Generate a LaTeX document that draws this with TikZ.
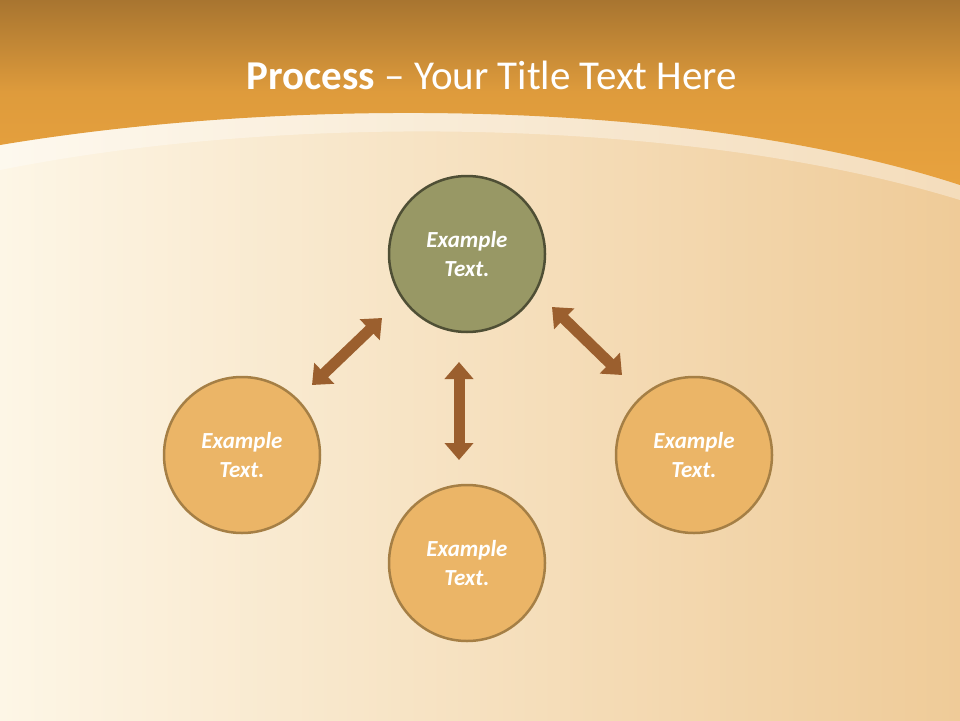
\documentclass[tikz,border=0pt]{standalone}
\usepackage{fontspec}
\setmainfont{Carlito}
\usetikzlibrary{arrows.meta}
\definecolor{hdtop}{HTML}{A87530}
\definecolor{hdbot}{HTML}{E8A23E}
\definecolor{bgl}{HTML}{FDF6E6}
\definecolor{bgr}{HTML}{EFCB98}
\definecolor{olive}{HTML}{989865}
\definecolor{olivedk}{HTML}{4F4F35}
\definecolor{orf}{HTML}{EBB567}
\definecolor{ord}{HTML}{A57F45}
\definecolor{arr}{HTML}{9B5F2E}
\tikzset{
 circ/.style={circle,minimum size=156pt,line width=2.5pt,draw=ord,fill=orf,text=white,align=center,font=\fontsize{23}{29}\selectfont\bfseries\itshape},
 dbl/.style={line width=11pt,draw=arr,{Triangle[width=28pt,length=17pt]}-{Triangle[width=28pt,length=17pt]}}
}
\begin{document}
\begin{tikzpicture}[x=1pt,y=-1pt]
\useasboundingbox (0,0) rectangle (960,720);
\shade[left color=bgl,right color=bgr] (0,0) rectangle (960,720);
\fill[white,opacity=0.35] (0,170) .. controls (300,110) and (700,120) .. (960,200) -- (960,180) .. controls (700,100) and (300,95) .. (0,145) -- cycle;
\shade[top color=hdtop,bottom color=hdbot,middle color=hdbot!85!hdtop] (0,0) -- (960,0) -- (960,185) .. controls (700,100) and (300,95) .. (0,145) -- cycle;
\node[text=white,font=\fontsize{41}{44}\selectfont] (title) at (492,75) {\textbf{Process} -- Your Title Text Here};
\node[circ,fill=olive,draw=olivedk] (top) at (467,254) {Example\\Text.};
\node[circ] (left) at (242,455) {Example\\Text.};
\node[circ] (bot) at (467,563) {Example\\Text.};
\node[circ] (right) at (694,455) {Example\\Text.};
\coordinate (a1) at (312,385); \coordinate (a2) at (382,318);
\coordinate (b1) at (459,362); \coordinate (b2) at (459,460);
\coordinate (c1) at (552,307); \coordinate (c2) at (622,375);
\draw[dbl] (a1) -- (a2);
\draw[dbl] (b1) -- (b2);
\draw[dbl] (c1) -- (c2);
\end{tikzpicture}
\end{document}
